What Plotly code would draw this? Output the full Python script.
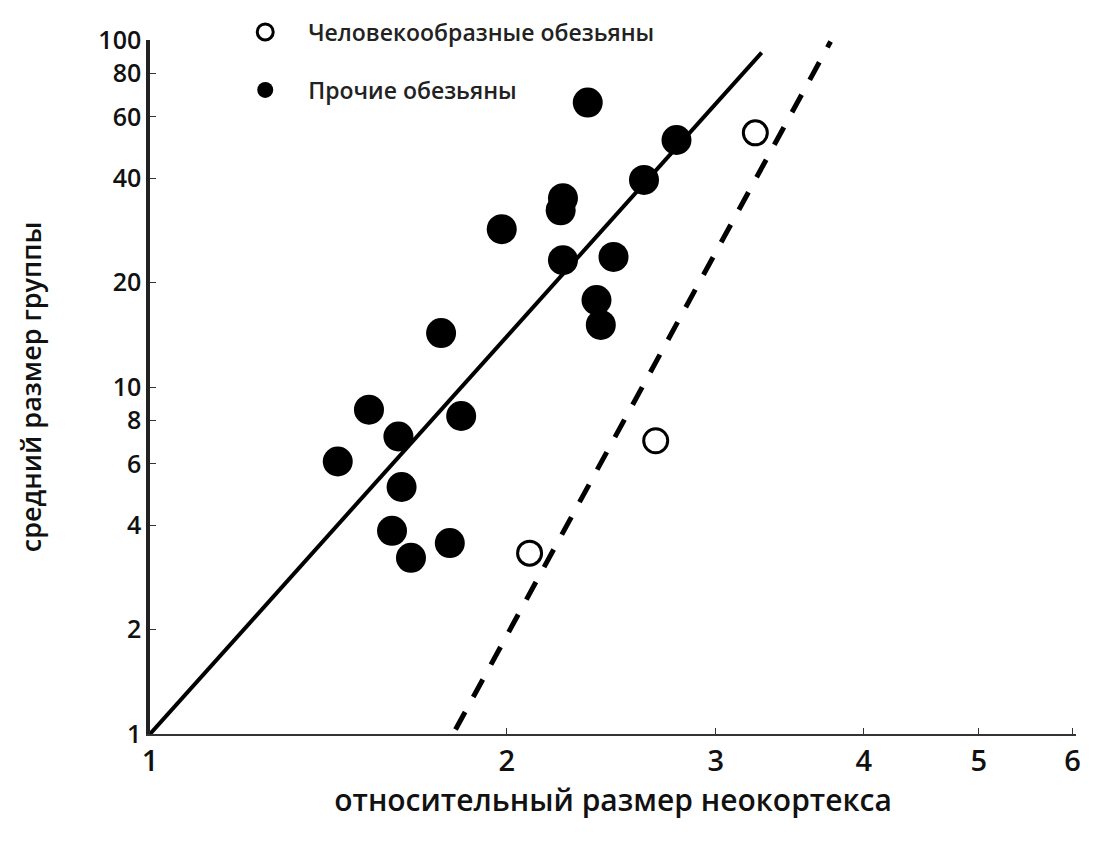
import plotly.graph_objects as go

# Data
other_x = [1.44, 1.53, 1.62, 1.63, 1.60, 1.66, 1.79, 1.83, 1.76, 1.98, 2.23,
           2.23, 2.22, 2.34, 2.78, 2.61, 2.46, 2.38, 2.40]
other_y = [6.1, 8.6, 7.2, 5.15, 3.85, 3.22, 3.55, 8.25, 14.3, 28.5, 23.2,
           35.0, 32.3, 66.0, 51.5, 39.5, 23.7, 17.8, 15.1]
apes_x = [2.09, 2.67, 3.24]
apes_y = [3.32, 7.0, 54.0]
fit_other_x = [1.0, 3.28]
fit_other_y = [1.0, 92.0]
fit_apes_x = [1.81, 3.75]
fit_apes_y = [1.03, 99.0]

x_ticks = [1, 2, 3, 4, 5, 6]
y_ticks = [1, 2, 4, 6, 8, 10, 20, 40, 60, 80, 100]

FONT = "Open Sans"

fig = go.Figure()
fig.add_trace(go.Scatter(x=fit_other_x, y=fit_other_y, mode="lines",
                         line=dict(color="black", width=4), showlegend=False))
fig.add_trace(go.Scatter(x=fit_apes_x, y=fit_apes_y, mode="lines",
                         line=dict(color="black", width=5, dash="20px,17px"), showlegend=False))
fig.add_trace(go.Scatter(x=apes_x, y=apes_y, mode="markers",
                         name="Человекообразные обезьяны",
                         marker=dict(symbol="circle-open", size=24, color="black",
                                     line=dict(width=3, color="black")),
                         legend="legend"))
fig.add_trace(go.Scatter(x=other_x, y=other_y, mode="markers",
                         name="Прочие обезьяны",
                         marker=dict(symbol="circle", size=30, color="black"),
                         legend="legend2"))

legend_common = dict(xanchor="left", yanchor="middle", itemwidth=76,
                     font=dict(size=23, family=FONT, weight=600, color="#222"),
                     bgcolor="rgba(0,0,0,0)")
fig.update_layout(
    width=1091, height=834,
    margin=dict(l=142, r=23, t=32, b=108, autoexpand=False),
    paper_bgcolor="white", plot_bgcolor="white",
    font=dict(family=FONT, color="black"),
    legend=dict(x=0.078, y=1.0115, **legend_common),
    legend2=dict(x=0.078, y=0.928, **legend_common),
)
fig.update_xaxes(type="log", range=[0, 0.781], tickvals=x_ticks,
                 ticktext=[str(v) for v in x_ticks], automargin=False,
                 showgrid=False, zeroline=False, showline=True,
                 linecolor="#333", linewidth=2, ticks="inside", ticklen=6,
                 tickcolor="#333", tickfont=dict(size=29, weight=600, color="#111"),
                 title=dict(text="относительный размер неокортекса",
                            font=dict(size=30, weight=600, color="#111"), standoff=8))
fig.update_yaxes(type="log", range=[0, 2.0], tickvals=y_ticks,
                 ticktext=[str(v) for v in y_ticks], automargin=False,
                 showgrid=False, zeroline=False, showline=True,
                 linecolor="#222", linewidth=3.5, ticks="inside", ticklen=6,
                 tickcolor="#333", tickfont=dict(size=25, weight=600, color="#111"),
                 title=dict(text="средний размер группы",
                            font=dict(size=27, weight=600, color="#111"), standoff=50))

fig.write_html("out.html")
